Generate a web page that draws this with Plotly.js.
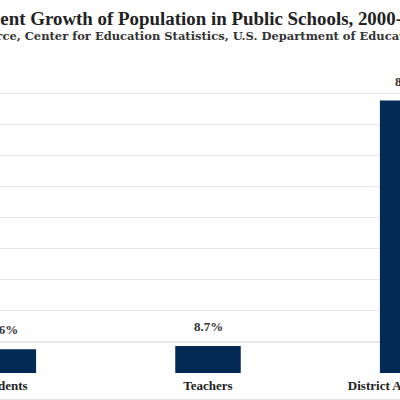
<!DOCTYPE html>
<html>
<head>
<meta charset="utf-8">
<script src="https://cdn.plot.ly/plotly-3.0.1.min.js"></script>
<style>
html,body{margin:0;padding:0;background:#fff;}
#wrap{position:relative;width:400px;height:400px;overflow:hidden;}
#chart{position:absolute;left:-200px;top:0;width:765px;height:413px;}
</style>
</head>
<body>
<div id="wrap"><div id="chart"></div></div>
<script>
const categories = ['Students', 'Teachers', 'District Administrators'];
const growth = [7.6, 8.7, 87.6];
const valueLabels = ['7.6%', '8.7%', '87.6%'];
const titleText = 'Percent Growth of Population in Public Schools, 2000-2015';
const subtitleText = 'Source, Center for Education Statistics, U.S. Department of Education';

const serif = 'Liberation Serif, Times New Roman, serif';

const trace = {
  type: 'bar',
  x: categories,
  y: growth,
  marker: {color: '#022a55'},
  hoverinfo: 'skip'
};

const annotations = categories.map((c, i) => ({
  x: c, y: growth[i], xref: 'x', yref: 'y',
  text: '<b>' + valueLabels[i] + '</b>',
  showarrow: false, yanchor: 'bottom', yshift: 10,
  font: {family: serif, size: 13, color: '#333'}
}));
annotations.push({
  x: 0.5, y: 1.085, xref: 'paper', yref: 'paper',
  text: '<b>' + subtitleText + '</b>',
  showarrow: false, yanchor: 'middle', xanchor: 'center', xshift: -10,
  font: {family: 'DejaVu Serif, serif', size: 11.5, color: '#333'}
});
annotations.push({
  x: 0.5, y: 1.139, xref: 'paper', yref: 'paper',
  text: '<b>' + titleText + '</b>',
  showarrow: false, yanchor: 'middle', xanchor: 'center', xshift: -6,
  font: {family: serif, size: 18.9, color: '#222'}
});

const layout = {
  width: 765, height: 413,
  margin: {l: 101, r: 50, t: 62, b: 40},
  paper_bgcolor: '#fff', plot_bgcolor: '#fff',
  showlegend: false,
  bargap: 0.68,
  xaxis: {
    showgrid: false, showline: false, zeroline: false, ticks: '',
    ticklabelstandoff: 3,
    tickfont: {family: serif, size: 13, color: '#222', weight: 'bold'}
  },
  yaxis: {
    range: [0, 100], dtick: 10, showticklabels: false,
    showgrid: true, gridcolor: '#e6e6e6', gridwidth: 1.2,
    zeroline: false, showline: false, ticks: ''
  },
  annotations: annotations,
  shapes: [{
    type: 'line', xref: 'paper', yref: 'paper',
    x0: -0.2, x1: 1.1, y0: -0.085, y1: -0.085,
    line: {color: '#e6e6e6', width: 1.2}
  }]
};

Plotly.newPlot('chart', [trace], layout, {staticPlot: true, displayModeBar: false});
</script>
</body>
</html>
